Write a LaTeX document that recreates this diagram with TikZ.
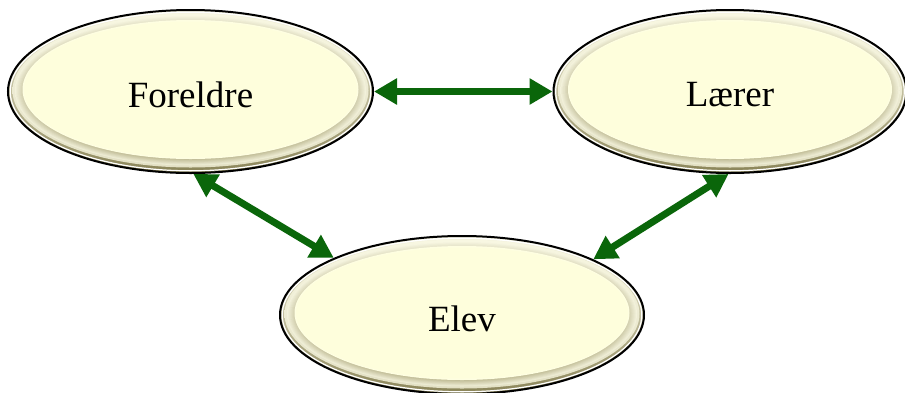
\documentclass[tikz,border=0pt]{standalone}
\usepackage{fontspec}
\setmainfont{Liberation Serif}
\usetikzlibrary{shapes.geometric,arrows.meta}
\definecolor{ringlight}{HTML}{F8F7E2}
\definecolor{ringdark}{HTML}{8A8458}
\definecolor{shadowc}{HTML}{B0AB80}
\definecolor{cream}{HTML}{FEFEDC}
\definecolor{arrgreen}{RGB}{10,102,10}
\newcommand{\lowtext}[2]{\raisebox{-#1}[\height][\depth]{#2}}
\tikzset{
  bub/.style 2 args={ellipse, minimum width=2*#1, minimum height=2*#2, inner sep=0pt,
    draw=black, line width=2pt, fill=ringlight,
    font=\fontsize{37}{40}\selectfont,
    path picture={
      \shade[top color=ringlight, bottom color=ringdark]
        (path picture bounding box.center) ellipse [x radius=#1, y radius=#2];
      \draw[white, line width=1.2pt] (path picture bounding box.center) ellipse [x radius=#1-2.2, y radius=#2-2.2];
      \shade[top color=ringlight, bottom color=ringlight!70!shadowc]
        ([yshift=1pt]path picture bounding box.center) ellipse [x radius=#1-4.5, y radius=#2-4.5];
      \foreach \k in {0,...,7}{
        \pgfmathsetmacro\pt{\k*3}
        \pgfmathsetmacro\pb{15+\k*9}
        \shade[top color=shadowc!\pt!ringlight, bottom color=shadowc!\pb!ringlight]
          ([yshift=1pt+0.15*\k pt]path picture bounding box.center) ellipse [x radius=#1-7-\k, y radius=#2-6.5-0.7*\k];
      }
      \fill[cream!85!white] ([yshift=2pt]path picture bounding box.center) ellipse [x radius=#1-14.5, y radius=#2-12];
      \fill[cream] ([yshift=2pt]path picture bounding box.center) ellipse [x radius=#1-16, y radius=#2-13.5];
    }},
  link/.style={draw=arrgreen, line width=7pt,
    {Triangle[length=23pt,width=25pt]}-{Triangle[length=23pt,width=25pt]}}
}
\begin{document}
\begin{tikzpicture}[x=1pt,y=-1pt]
  \fill[white] (0,0) rectangle (905,392);
  \useasboundingbox (0,0) rectangle (905,392);
  \node[bub={182.5}{81.5}] (F) at (190.5,91.5) {\lowtext{3pt}{Foreldre}};
  \node[bub={176.5}{81.5}] (L) at (730,91.5) {\lowtext{3pt}{Lærer}};
  \node[bub={182}{79}] (E) at (462,315) {\lowtext{4pt}{Elev}};
  \draw[link] (F.east) -- (L.west);
  \draw[link] (F.272) -- (E.156);
  \draw[link] (L.269) -- (E.23);
\end{tikzpicture}
\end{document}
